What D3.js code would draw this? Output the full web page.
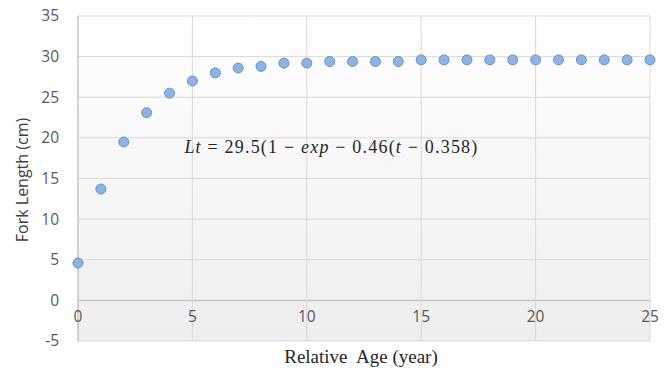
<!DOCTYPE html>
<html>
<head>
<meta charset="utf-8">
<script src="https://cdn.jsdelivr.net/npm/d3@7"></script>
<style>
  html, body { margin: 0; padding: 0; background: #fff; }
  .tick-label { font-family: "Open Sans", "Liberation Sans", sans-serif; font-size: 15.5px; fill: #595959; }
  .axis-title { font-family: "Open Sans", sans-serif; font-size: 16px; fill: #404040; }
  .x-title { font-family: "Liberation Serif", "DejaVu Serif", serif; font-size: 19px; fill: #262626; white-space: pre; }
  .equation { font-family: "Liberation Serif", "DejaVu Serif", serif; font-size: 18px; fill: #262626; white-space: pre; letter-spacing: 1.2px; }
</style>
</head>
<body>
<div id="chart"></div>
<script>
// growth data
const ages = [0, 1, 2, 3, 4, 5, 6, 7, 8, 9, 10, 11, 12, 13, 14, 15, 16, 17, 18, 19, 20, 21, 22, 23, 24, 25];
const forkLength = [4.6, 13.7, 19.5, 23.1, 25.5, 27.0, 28.0, 28.6, 28.8, 29.2, 29.2, 29.4, 29.4, 29.4, 29.4,
  29.6, 29.6, 29.6, 29.6, 29.6, 29.6, 29.6, 29.6, 29.6, 29.6, 29.6];
const xTicks = [0, 5, 10, 15, 20, 25];
const yTicks = [-5, 0, 5, 10, 15, 20, 25, 30, 35];

const W = 670, H = 371;
const margin = { top: 16, right: 20, bottom: 30, left: 78 };
const width = W - margin.left - margin.right;
const height = H - margin.top - margin.bottom;

const svg = d3.select("#chart").append("svg")
  .attr("width", W)
  .attr("height", H);

const defs = svg.append("defs");
const grad = defs.append("linearGradient")
  .attr("id", "bg")
  .attr("x1", 0).attr("y1", 0).attr("x2", 0).attr("y2", 1);
grad.append("stop").attr("offset", "0%").attr("stop-color", "#ffffff");
grad.append("stop").attr("offset", "100%").attr("stop-color", "#eeeeee");

const g = svg.append("g")
  .attr("transform", `translate(${margin.left}, ${margin.top})`);

const x = d3.scaleLinear().domain([0, 25]).range([0, width]);
const y = d3.scaleLinear().domain([-5, 35]).range([height, 0]);

g.append("rect")
  .attr("width", width)
  .attr("height", height)
  .attr("fill", "url(#bg)");

// grid
g.append("g")
  .selectAll("line")
  .data(yTicks)
  .join("line")
  .attr("x1", 0)
  .attr("x2", width)
  .attr("y1", (d) => y(d))
  .attr("y2", (d) => y(d))
  .attr("stroke", (d) => (d === 0 ? "#c4c4c4" : "#d9d9d9"))
  .attr("stroke-width", (d) => (d === 0 ? 1.5 : 1));

g.append("g")
  .selectAll("line")
  .data(xTicks)
  .join("line")
  .attr("x1", (d) => x(d))
  .attr("x2", (d) => x(d))
  .attr("y1", 0)
  .attr("y2", height)
  .attr("stroke", (d) => (d === 0 ? "#c4c4c4" : "#d9d9d9"))
  .attr("stroke-width", (d) => (d === 0 ? 1.5 : 1));

// y labels
g.append("g")
  .selectAll("text")
  .data(yTicks)
  .join("text")
  .attr("class", "tick-label")
  .attr("x", -19)
  .attr("y", (d) => y(d))
  .attr("dy", "0.35em")
  .attr("text-anchor", "end")
  .text((d) => d);

// x labels sit below the zero line
g.append("g")
  .selectAll("text")
  .data(xTicks)
  .join("text")
  .attr("class", "tick-label")
  .attr("x", (d) => x(d))
  .attr("y", y(-2.05))
  .attr("dy", "0.35em")
  .attr("text-anchor", "middle")
  .text((d) => d);

// points
g.append("g")
  .selectAll("circle")
  .data(ages)
  .join("circle")
  .attr("cx", (d) => x(d))
  .attr("cy", (d, i) => y(forkLength[i]))
  .attr("r", 5)
  .attr("fill", "#8db3e2")
  .attr("stroke", "#6b93c6")
  .attr("stroke-width", 1);

// equation
const eq = g.append("text")
  .attr("class", "equation")
  .attr("x", x(4.65))
  .attr("y", y(18.2));
eq.append("tspan").attr("font-style", "italic").text("Lt");
eq.append("tspan").text(" = 29.5(1 − ");
eq.append("tspan").attr("font-style", "italic").text("exp");
eq.append("tspan").text(" − 0.46(");
eq.append("tspan").attr("font-style", "italic").text("t");
eq.append("tspan").text(" − 0.358)");

// axis titles
svg.append("text")
  .attr("class", "axis-title")
  .attr("transform", `translate(28, 180) rotate(-90)`)
  .attr("text-anchor", "middle")
  .text("Fork Length (cm)");

svg.append("text")
  .attr("class", "x-title")
  .attr("x", margin.left + width / 2 - 3)
  .attr("y", 363)
  .attr("text-anchor", "middle")
  .text("Relative  Age (year)");
</script>
</body>
</html>
